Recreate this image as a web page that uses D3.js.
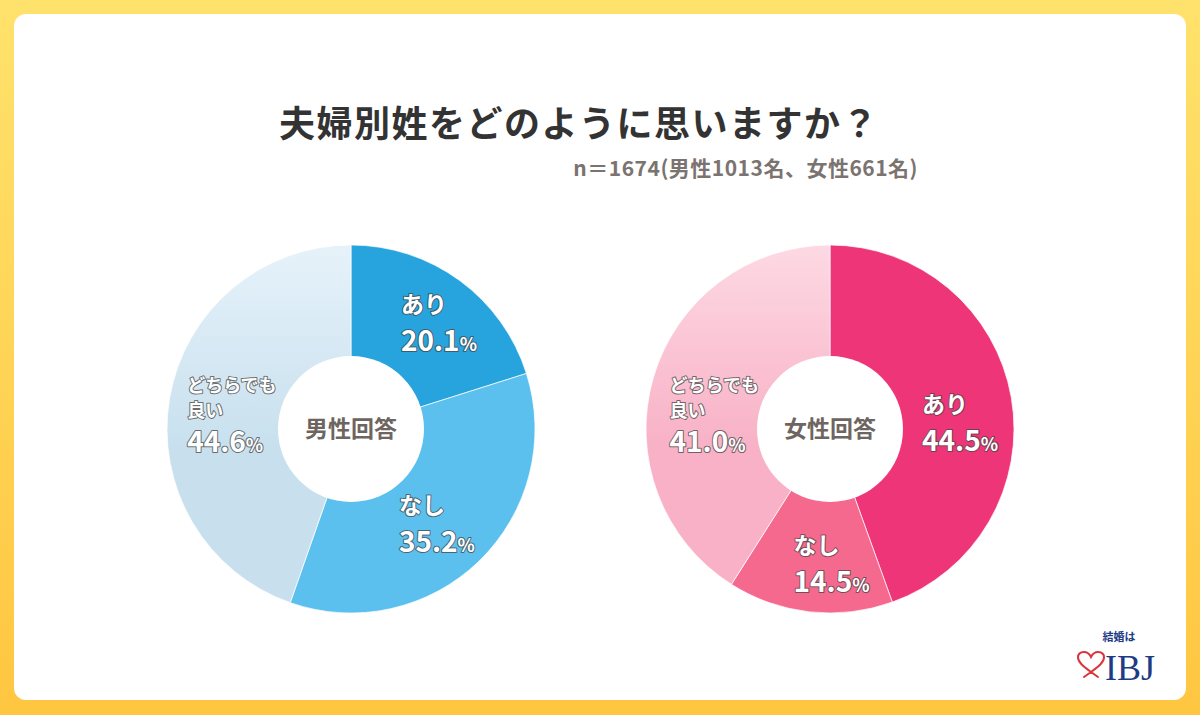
<!DOCTYPE html>
<html>
<head>
<meta charset="utf-8">
<script src="https://cdn.jsdelivr.net/npm/d3@7"></script>
<style>
  html, body { margin: 0; padding: 0; }
  body { width: 1200px; height: 715px; overflow: hidden; }
  svg { display: block; font-family: 'Noto Sans CJK JP', 'Noto Sans', sans-serif; }
</style>
</head>
<body>
<div id="chart"></div>
<script>
// データ
const titleText = '夫婦別姓をどのように思いますか？';
const subtitleText = 'n＝1674(男性1013名、女性661名)';
const categories = ['あり', 'なし', 'どちらでも良い'];
const labelLines = [['あり'], ['なし'], ['どちらでも', '良い']];
const maleValues = [20.1, 35.2, 44.6];
const femaleValues = [44.5, 14.5, 41.0];
const centerLabels = ['男性回答', '女性回答'];
const maleColors = ['#27a3dd', '#5bc0ee', '#c8e0ee'];
const femaleColors = ['#ee3577', '#f6698f', '#f8b1c6'];
const lightTops = ['#e6f2fa', '#fdd9e4'];

// レイアウト
const W = 1200, H = 715;
const outerR = 184, innerR = 73, labelR = 132;
const pies = [
    { cx: 351, cy: 429, values: maleValues, colors: maleColors, center: centerLabels[0],
      nudge: [[10, 0], [-6, 0], [11, 9]] },
    { cx: 830, cy: 429, values: femaleValues, colors: femaleColors, center: centerLabels[1],
      nudge: [[0, 16], [16, 3], [11, 23]] }
];

const svg = d3.select('#chart').append('svg')
    .attr('width', W)
    .attr('height', H);

const defs = svg.append('defs');

const bg = defs.append('linearGradient')
    .attr('id', 'bg').attr('x1', 0).attr('y1', 0).attr('x2', 0).attr('y2', 1);
bg.append('stop').attr('offset', '0%').attr('stop-color', '#ffe26c');
bg.append('stop').attr('offset', '100%').attr('stop-color', '#ffc640');

svg.append('rect').attr('width', W).attr('height', H).attr('fill', 'url(#bg)');
svg.append('rect')
    .attr('x', 14).attr('y', 14)
    .attr('width', 1172).attr('height', 686)
    .attr('rx', 12)
    .attr('fill', '#fff');

// タイトル
svg.append('text')
    .attr('x', 579).attr('y', 137)
    .attr('text-anchor', 'middle')
    .style('font-size', '36px')
    .style('font-weight', 700)
    .style('letter-spacing', '1.5px')
    .style('fill', '#333')
    .text(titleText);

svg.append('text')
    .attr('x', 918).attr('y', 176)
    .attr('text-anchor', 'end')
    .style('font-size', '21px')
    .style('font-weight', 700)
    .style('letter-spacing', '0.5px')
    .style('fill', '#7b7370')
    .text(subtitleText);

const pie = d3.pie().sort(null).value(d => d);
const arc = d3.arc().innerRadius(0).outerRadius(outerR);
const labelArc = d3.arc().innerRadius(labelR).outerRadius(labelR);

pies.forEach((p, pi) => {
    const gradId = 'light' + pi;
    const lg = defs.append('linearGradient')
        .attr('id', gradId)
        .attr('gradientUnits', 'userSpaceOnUse')
        .attr('x1', 0).attr('y1', -outerR).attr('x2', 0).attr('y2', outerR);
    lg.append('stop').attr('offset', '0%').attr('stop-color', lightTops[pi]);
    lg.append('stop').attr('offset', '55%').attr('stop-color', p.colors[2]);

    const g = svg.append('g')
        .attr('transform', `translate(${p.cx},${p.cy})`);

    const arcs = pie(p.values);

    g.selectAll('path.slice')
        .data(arcs)
        .enter().append('path')
        .attr('class', 'slice')
        .attr('d', arc)
        .attr('fill', (d, i) => i === 2 ? `url(#${gradId})` : p.colors[i])
        .attr('stroke', 'rgba(255,255,255,0.7)')
        .attr('stroke-width', 1);

    g.append('circle').attr('r', innerR).attr('fill', '#fff');

    g.append('text')
        .attr('text-anchor', 'middle')
        .attr('dy', '0.36em')
        .style('font-size', '23px')
        .style('font-weight', 700)
        .style('fill', '#6e6560')
        .text(p.center);

    // ラベル
    arcs.forEach((d, i) => {
        const [lx, ly] = labelArc.centroid(d);
        const lines = labelLines[i];
        const small = lines.length > 1;
        const block = g.append('g');
        const txt = block.append('text')
            .style('font-weight', 700)
            .style('fill', '#fff')
            .style('stroke', 'rgba(70,70,70,0.75)')
            .style('stroke-width', 2)
            .style('stroke-linejoin', 'round')
            .style('paint-order', 'stroke');

        lines.forEach((ln, k) => {
            txt.append('tspan')
                .attr('x', 0)
                .attr('y', k * 25)
                .style('font-size', small ? '18px' : '23px')
                .text(ln);
        });
        const vy = small ? 60 : 38;
        const vt = txt.append('tspan').attr('x', 0).attr('y', vy);
        vt.append('tspan').style('font-size', '28px').text(d.data.toFixed(1));
        vt.append('tspan').style('font-size', '18px').text('%');

        const bb = block.node().getBBox();
        block.attr('transform',
            `translate(${lx + p.nudge[i][0] - bb.x - bb.width / 2},${ly + p.nudge[i][1] - bb.y - bb.height / 2})`);
    });
});

// ロゴ
const logo = svg.append('g').attr('transform', 'translate(1077,631)');
logo.append('text')
    .attr('x', 42).attr('y', 10)
    .attr('text-anchor', 'middle')
    .style('font-family', "'Liberation Serif', 'Noto Sans CJK JP', serif")
    .style('font-size', '11px')
    .style('font-weight', 700)
    .style('fill', '#1d3c85')
    .text('結婚は');
logo.append('path')
    .attr('transform', 'translate(0,20)')
    .attr('d', 'M14,21 C6,15 1,11 1,6.5 C1,3 3.5,1 7,1 C10,1 12.5,3 14,6 C15.5,3 18,1 21,1 C24.5,1 27,3 27,6.5 C27,11 22,15 14,21 M14,21 L7,26 M14,21 L21,26')
    .attr('fill', 'none')
    .attr('stroke', '#d9343b')
    .attr('stroke-width', 2)
    .attr('stroke-linecap', 'round');
logo.append('text')
    .attr('x', 28).attr('y', 49)
    .style('font-family', "'Liberation Serif', serif")
    .style('font-size', '36px')
    .style('fill', '#1d3c85')
    .text('IBJ');
</script>
</body>
</html>
